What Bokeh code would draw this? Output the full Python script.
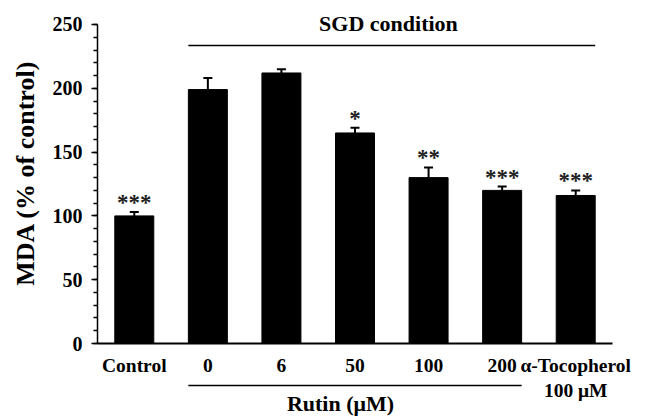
import math
from bokeh.plotting import figure
from bokeh.models import (Range1d, SingleIntervalTicker, FixedTicker, Whisker,
                          ColumnDataSource, TeeHead)
from bokeh.embed import file_html
from bokeh.resources import INLINE
from bokeh.core.properties import value

categories = ["Control", "0", "6", "50", "100", "200", "α-Tocopherol\n100 μM"]
mda = [100, 199, 212, 165, 130, 120, 116]
sem = [3, 9, 3, 4, 8, 3, 4]
stars = ["***", "", "", "*", "**", "***", "***"]

FONT = value("Liberation Serif")
BAR_W = 0.53
positions = list(range(1, len(categories) + 1))

p = figure(width=654, height=416,
           x_range=Range1d(-0.8185, 8.071),
           y_range=Range1d(-57.2, 268.8),
           output_backend="svg", toolbar_location=None,
           min_border_left=0, min_border_right=0,
           min_border_top=0, min_border_bottom=0)
p.outline_line_color = None
p.xgrid.visible = False
p.ygrid.visible = False
p.background_fill_color = "white"

upper = [m + s for m, s in zip(mda, sem)]
src = ColumnDataSource(dict(x=positions, top=mda, upper=upper, stars=stars,
                            star_y=[u + 7.4 for u in upper]))

p.vbar(x="x", top="top", bottom=0, width=BAR_W, source=src,
       fill_color="black", line_color="black")

wh = Whisker(base="x", lower="top", upper="upper", source=src, dimension="height",
             line_width=2, line_color="black",
             upper_head=TeeHead(size=9, line_width=2, line_color="black"),
             lower_head=None)
p.add_layout(wh)

p.text(x="x", y="star_y", text="stars", source=src, text_font=FONT,
       text_font_style="bold", text_font_size="23px", text_align="center",
       text_baseline="middle", text_color="#222222")

# y axis
ya = p.yaxis[0]
ya.fixed_location = 0.5
ya.bounds = (0, 250)
ya.ticker = SingleIntervalTicker(interval=50, num_minor_ticks=5)
ya.axis_line_width = 1.5
ya.major_tick_line_width = 1.5
ya.minor_tick_line_width = 1.5
ya.major_tick_in = 0
ya.major_tick_out = 6
ya.minor_tick_in = 0
ya.minor_tick_out = 4
ya.major_label_standoff = 9
ya.major_label_text_font = "Liberation Serif"
ya.major_label_text_font_style = "bold"
ya.major_label_text_font_size = "20px"
ya.major_label_text_color = "black"

# x axis at y = 0
xa = p.xaxis[0]
xa.fixed_location = 0
xa.bounds = (0.5, len(categories) + 0.5)
xa.ticker = FixedTicker(ticks=positions, minor_ticks=[])
xa.major_label_overrides = {pos: lab for pos, lab in zip(positions, categories)}
xa.axis_line_width = 2
xa.major_tick_in = 0
xa.major_tick_out = 0
xa.minor_tick_in = 0
xa.minor_tick_out = 0
xa.major_label_standoff = 11
xa.major_label_text_font = "Liberation Serif"
xa.major_label_text_font_style = "bold"
xa.major_label_text_font_size = "19.5px"
xa.major_label_text_color = "black"

# SGD condition bracket
p.segment(x0=[2 - BAR_W / 2], y0=[233.5], x1=[7 + BAR_W / 2], y1=[233.5],
          line_color="black", line_width=1.5)
p.text(x=[4.455], y=[250.8], text=["SGD condition"], text_font=FONT,
       text_font_style="bold", text_font_size="22px", text_align="center",
       text_baseline="middle", text_color="black")

# Rutin bracket
p.segment(x0=[2 - BAR_W / 2], y0=[-32.9], x1=[6 + BAR_W / 2], y1=[-32.9],
          line_color="black", line_width=1.5)
p.text(x=[3.803], y=[-47.0], text=["Rutin (μM)"], text_font=FONT,
       text_font_style="bold", text_font_size="22px", text_align="center",
       text_baseline="middle", text_color="black")

# y title
p.text(x=[-0.4787], y=[133.6], text=["MDA (% of control)"], angle=math.pi / 2,
       text_font=FONT, text_font_style="bold", text_font_size="26px",
       text_align="center", text_baseline="middle", text_color="black")

open("out.html", "w").write(file_html(p, INLINE))
